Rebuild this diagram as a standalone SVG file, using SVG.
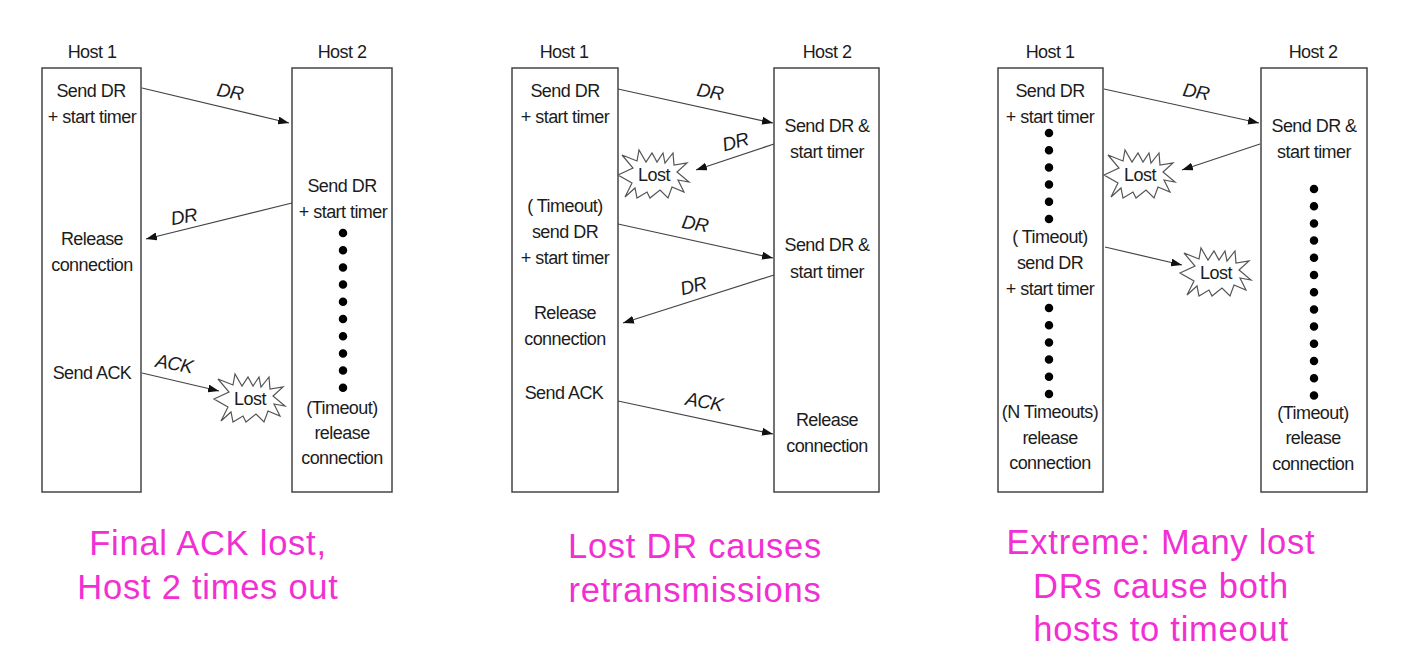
<svg xmlns="http://www.w3.org/2000/svg" xmlns:xlink="http://www.w3.org/1999/xlink" width="1407" height="664" viewBox="0 0 1407 664">
<style>
text{font-family:"Liberation Sans",Arial,sans-serif;fill:#1c1c1c;text-anchor:middle}
.t{font-size:18px;letter-spacing:-.55px}
.i{font-size:19px;font-style:italic;letter-spacing:-.6px}
.m{font-size:34.5px;fill:#f22fd2;letter-spacing:.75px}
.b{fill:#fff;stroke:#444;stroke-width:1.5}
.c line{stroke:#444;stroke-width:1.2;marker-end:url(#a)}
.d{fill:none;stroke:#000;stroke-width:8.5;stroke-linecap:round;stroke-dasharray:0 17.2}
.s{fill:#fff;stroke:#555;stroke-width:1.2}
</style>
<defs>
<marker id="a" markerUnits="userSpaceOnUse" markerWidth="12" markerHeight="8" refX="11" refY="4" orient="auto"><path d="M0 0L11 4L0 8z" fill="#111"/></marker>
<polygon id="star" class="s" points="-36,0 -21,-7 -32,-20 -17,-14 -15,-25 -8,-13 -2,-22 3,-13 9,-22 11,-12 19,-22 20,-10 33,-12 23,-3 35,7 24,5 30,17 18,12 14,23 6,15 -4,23 -7,17 -17,23 -19,13 -29,22 -22,8"/>
</defs>
<rect width="1407" height="664" fill="#fff"/>

<g id="d1-host1"><rect class="b" x="42" y="68" width="99" height="424"/>
<text class="t" x="92" y="58">Host 1</text>
<text class="t" x="91" y="97">Send DR</text><text class="t" x="92" y="123">+ start timer</text>
<text class="t" x="92" y="245">Release</text><text class="t" x="92" y="271">connection</text>
<text class="t" x="92" y="379">Send ACK</text></g>
<g id="d1-host2"><rect class="b" x="292" y="68" width="100" height="424"/>
<text class="t" x="342" y="58">Host 2</text>
<text class="t" x="342" y="192">Send DR</text><text class="t" x="343" y="218">+ start timer</text>
<path class="d" d="M343 233V389"/>
<text class="t" x="342" y="414">(Timeout)</text><text class="t" x="342" y="439">release</text><text class="t" x="342" y="464">connection</text></g>
<g id="d1-lost"><use xlink:href="#star" href="#star" x="250" y="399"/><text class="t" x="250" y="405">Lost</text></g>

<g id="d2-host1"><rect class="b" x="512" y="68" width="106" height="424"/>
<text class="t" x="564" y="58">Host 1</text>
<text class="t" x="565" y="97">Send DR</text><text class="t" x="565" y="123">+ start timer</text>
<text class="t" x="565" y="212">( Timeout)</text><text class="t" x="565" y="238">send DR</text><text class="t" x="565" y="264">+ start timer</text>
<text class="t" x="565" y="319">Release</text><text class="t" x="565" y="345">connection</text>
<text class="t" x="564" y="399">Send ACK</text></g>
<g id="d2-host2"><rect class="b" x="774" y="68" width="105" height="424"/>
<text class="t" x="827" y="58">Host 2</text>
<text class="t" x="827" y="132">Send DR &amp;</text><text class="t" x="827" y="158">start timer</text>
<text class="t" x="827" y="251">Send DR &amp;</text><text class="t" x="827" y="278">start timer</text>
<text class="t" x="827" y="426">Release</text><text class="t" x="827" y="452">connection</text></g>
<g id="d2-lost"><use xlink:href="#star" href="#star" x="654" y="175"/><text class="t" x="654" y="181">Lost</text></g>

<g id="d3-host1"><rect class="b" x="998" y="68" width="105" height="424"/>
<text class="t" x="1050" y="58">Host 1</text>
<text class="t" x="1050" y="97">Send DR</text><text class="t" x="1050" y="123">+ start timer</text>
<path class="d" d="M1049 133V219.5"/>
<text class="t" x="1050" y="243">( Timeout)</text><text class="t" x="1050" y="269">send DR</text><text class="t" x="1050" y="295">+ start timer</text>
<path class="d" d="M1049 308V394.5"/>
<text class="t" x="1050" y="418">(N Timeouts)</text><text class="t" x="1050" y="444">release</text><text class="t" x="1050" y="469">connection</text></g>
<g id="d3-host2"><rect class="b" x="1261" y="68" width="106" height="424"/>
<text class="t" x="1313" y="58">Host 2</text>
<text class="t" x="1314" y="132">Send DR &amp;</text><text class="t" x="1314" y="158">start timer</text>
<path class="d" d="M1314 189V396"/>
<text class="t" x="1313" y="419">(Timeout)</text><text class="t" x="1313" y="444">release</text><text class="t" x="1313" y="470">connection</text></g>
<g id="d3-lost-1"><use xlink:href="#star" href="#star" x="1140" y="175"/><text class="t" x="1140" y="181">Lost</text></g>
<g id="d3-lost-2"><use xlink:href="#star" href="#star" x="1216" y="273"/><text class="t" x="1216" y="279">Lost</text></g>

<g id="connectors" class="c">
<line x1="142" y1="88" x2="289" y2="123"/>
<line x1="292" y1="203" x2="146" y2="239"/>
<line x1="142" y1="373" x2="219" y2="391"/>
<line x1="618" y1="89" x2="773" y2="123"/>
<line x1="774" y1="144" x2="696" y2="170"/>
<line x1="618" y1="224" x2="773" y2="258"/>
<line x1="774" y1="275" x2="623" y2="323"/>
<line x1="618" y1="401" x2="773" y2="434"/>
<line x1="1104" y1="89" x2="1259" y2="123"/>
<line x1="1260" y1="144" x2="1182" y2="170"/>
<line x1="1105" y1="247" x2="1182" y2="265"/>
</g>
<g id="connector-labels">
<text class="i" x="229" y="98" transform="rotate(10 229 98)">DR</text>
<text class="i" x="185" y="223" transform="rotate(-10 185 223)">DR</text>
<text class="i" x="173" y="370" transform="rotate(10 173 370)">ACK</text>
<text class="i" x="709" y="98" transform="rotate(10 709 98)">DR</text>
<text class="i" x="737" y="148" transform="rotate(-15 737 148)">DR</text>
<text class="i" x="694" y="230" transform="rotate(10 694 230)">DR</text>
<text class="i" x="695" y="292" transform="rotate(-15 695 292)">DR</text>
<text class="i" x="703" y="408" transform="rotate(10 703 408)">ACK</text>
<text class="i" x="1195" y="98" transform="rotate(10 1195 98)">DR</text>
</g>
<g id="captions">
<text class="m" x="208" y="555">Final ACK lost,</text>
<text class="m" x="208" y="599">Host 2 times out</text>
<text class="m" x="695" y="558">Lost DR causes</text>
<text class="m" x="695" y="602">retransmissions</text>
<text class="m" x="1161" y="554">Extreme: Many lost</text>
<text class="m" x="1161" y="598">DRs cause both</text>
<text class="m" x="1161" y="641">hosts to timeout</text>
</g>
</svg>
